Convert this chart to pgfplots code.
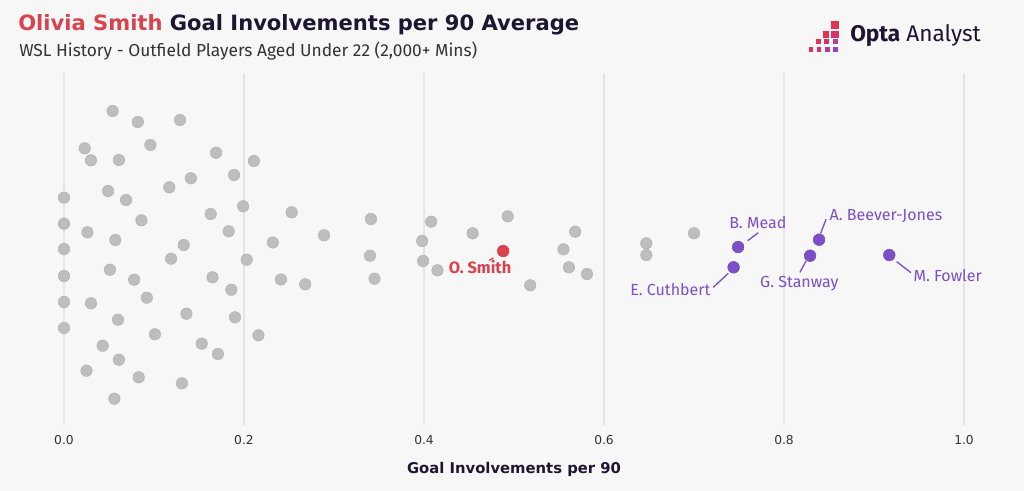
\documentclass[border=0pt]{standalone}
\usepackage{pgfplots}
\pgfplotsset{compat=1.18}
\usepackage{fontspec}
\setmainfont{Fira Sans}
\newfontfamily\wide{DejaVu Sans}
\definecolor{bg}{HTML}{F7F7F8}
\definecolor{ptgray}{HTML}{BEBEBE}
\definecolor{ptedge}{HTML}{B2B2B2}
\definecolor{gridc}{HTML}{E4E4E6}
\definecolor{redc}{HTML}{D9434E}
\definecolor{purp}{HTML}{7B4FC6}
\definecolor{darkt}{HTML}{1C1630}
\definecolor{subt}{HTML}{333333}
\definecolor{lg1}{HTML}{E4334F}
\definecolor{lg2}{HTML}{D2336F}
\definecolor{lg3}{HTML}{B43A9A}
\definecolor{lg4}{HTML}{9A40BE}

\pgfplotstableread{
x y
0.054 111
0.082 122
0.129 120
0.023 148.3
0.096 145
0.030 160.3
0.061 160
0.169 152.7
0.211 161
0.189 175
0.141 178.3
0.117 187.3
0.000 197.7
0.049 191
0.069 200
0.199 206.3
0.163 214
0.000 223.7
0.026 232.3
0.086 220.3
0.057 240
0.183 231.3
0.133 245
0.232 242.5
0.253 212.3
0.000 249
0.119 258.7
0.203 259.7
0.000 276
0.051 269.7
0.078 279.7
0.165 277.3
0.186 289.7
0.241 279.5
0.000 302
0.030 303.3
0.092 297.7
0.060 319.7
0.136 313.7
0.190 317.3
0.000 328
0.101 334.3
0.043 345.7
0.153 343.7
0.216 335.3
0.061 359.7
0.171 354
0.025 370.7
0.083 377.3
0.131 383.3
0.056 398.7
0.268 284.3
0.289 235.3
0.341 219
0.340 255.7
0.345 278.7
0.408 221.7
0.398 241
0.399 261
0.415 270.3
0.454 233.3
0.493 216.3
0.518 285.3
0.568 231.7
0.555 249.3
0.561 267.3
0.581 274
0.647 243.3
0.647 255
0.700 233.3
}\graydata

\pgfplotstableread{
x y
0.749 247
0.744 267.3
0.839 239.7
0.829 255.7
0.917 255
}\purpdata

\pgfplotstableread{
x y
0.488 251
}\reddata

\begin{document}
\begin{tikzpicture}
\begin{axis}[
  hide axis, scale only axis,
  width=768pt, height=368.25pt,
  xmin=-0.071111, xmax=1.066667, ymin=0, ymax=491, y dir=reverse,
  clip=false,
]
\fill[bg] (rel axis cs:0,0) rectangle (rel axis cs:1,1);

% grid lines
\addplot[gridc, line width=1pt] coordinates {(0,73) (0,425)};
\addplot[gridc, line width=1pt] coordinates {(0.2,73) (0.2,425)};
\addplot[gridc, line width=1pt] coordinates {(0.4,73) (0.4,425)};
\addplot[gridc, line width=1pt] coordinates {(0.6,73) (0.6,425)};
\addplot[gridc, line width=1pt] coordinates {(0.8,73) (0.8,425)};
\addplot[gridc, line width=1pt] coordinates {(1.0,73) (1.0,425)};

% leader lines
\addplot[purp, line width=1pt] coordinates {(0.75967,240.7) (0.77144,232.7)};
\addplot[purp, line width=1pt] coordinates {(0.72144,287.3) (0.73811,273.3)};
\addplot[purp, line width=1pt] coordinates {(0.84078,233.3) (0.84667,219.3)};
\addplot[purp, line width=1pt] coordinates {(0.81778,272.3) (0.82444,261)};
\addplot[purp, line width=1pt] coordinates {(0.92522,261.7) (0.94111,272.7)};
\addplot[redc, line width=1pt] coordinates {(0.47256,260.3) (0.47700,258)};

% points
\addplot[only marks, mark=*, mark size=4.3pt, mark options={fill=ptgray, draw=ptedge, line width=0.4pt}] table {\graydata};
\addplot[only marks, mark=*, mark size=4.4pt, mark options={fill=purp, draw=purp, line width=0.4pt}] table {\purpdata};
\addplot[only marks, mark=*, mark size=4.4pt, mark options={fill=redc, draw=redc, line width=0.4pt}] table {\reddata};

% labels
\node[anchor=base, text=purp, font=\fontsize{12}{14}\selectfont] at (axis cs:0.77089,229) {B. Mead};
\node[anchor=base, text=purp, font=\fontsize{12}{14}\selectfont] at (axis cs:0.67367,296) {E. Cuthbert};
\node[anchor=base west, inner sep=0pt, text=purp, font=\fontsize{12}{14}\selectfont] at (axis cs:0.85033,221) {A. Beever-Jones};
\node[anchor=base, text=purp, font=\fontsize{12}{14}\selectfont] at (axis cs:0.817,287.3) {G. Stanway};
\node[anchor=base west, inner sep=0pt, text=purp, font=\fontsize{12}{14}\selectfont] at (axis cs:0.94367,282) {M. Fowler};
\node[anchor=base, text=redc, font=\bfseries\fontsize{12.3}{14}\selectfont] at (axis cs:0.46222,273.3) {O. Smith};

% tick labels
\node[anchor=base, text=subt, font=\wide\fontsize{9.2}{11}\selectfont] at (axis cs:0,444) {0.0};
\node[anchor=base, text=subt, font=\wide\fontsize{9.2}{11}\selectfont] at (axis cs:0.2,444) {0.2};
\node[anchor=base, text=subt, font=\wide\fontsize{9.2}{11}\selectfont] at (axis cs:0.4,444) {0.4};
\node[anchor=base, text=subt, font=\wide\fontsize{9.2}{11}\selectfont] at (axis cs:0.6,444) {0.6};
\node[anchor=base, text=subt, font=\wide\fontsize{9.2}{11}\selectfont] at (axis cs:0.8,444) {0.8};
\node[anchor=base, text=subt, font=\wide\fontsize{9.2}{11}\selectfont] at (axis cs:1.0,444) {1.0};
\node[anchor=base, text=darkt, font=\wide\bfseries\fontsize{11.1}{14}\selectfont] at (axis cs:0.5,473) {Goal Involvements per 90};

% title
\node[anchor=base west, inner sep=0pt, text=darkt, font=\wide\bfseries\fontsize{15.8}{18}\selectfont] at (axis cs:-0.05111,30.5) {\textcolor{redc}{Olivia Smith} Goal Involvements per 90 Average};
\node[anchor=base west, inner sep=0pt, text=subt, font=\fontsize{13}{15}\selectfont] at (axis cs:-0.05,57) {WSL History - Outfield Players Aged Under 22 (2,000+ Mins)};

% logo
\fill[lg1] (axis cs:0.85189,20.7) rectangle (axis cs:0.86144,29.3);
\fill[lg1] (axis cs:0.84300,30.7) rectangle (axis cs:0.85033,37.7);
\fill[lg2] (axis cs:0.85256,30.7) rectangle (axis cs:0.86078,37.7);
\fill[lg1] (axis cs:0.83556,38.7) rectangle (axis cs:0.84144,44);
\fill[lg2] (axis cs:0.84444,38.7) rectangle (axis cs:0.85033,44);
\fill[lg3] (axis cs:0.85411,38.7) rectangle (axis cs:0.86,44);
\fill[lg1] (axis cs:0.82811,47.3) rectangle (axis cs:0.83256,52);
\fill[lg2] (axis cs:0.83700,47.3) rectangle (axis cs:0.84144,52);
\fill[lg3] (axis cs:0.84589,47.3) rectangle (axis cs:0.85111,52);
\fill[lg4] (axis cs:0.85478,47.3) rectangle (axis cs:0.86,52);
\node[anchor=base west, inner sep=0pt, text=darkt, font=\fontsize{17}{20}\selectfont] at (axis cs:0.87333,42) {\textbf{Opta} Analyst};
\end{axis}
\end{tikzpicture}
\end{document}
